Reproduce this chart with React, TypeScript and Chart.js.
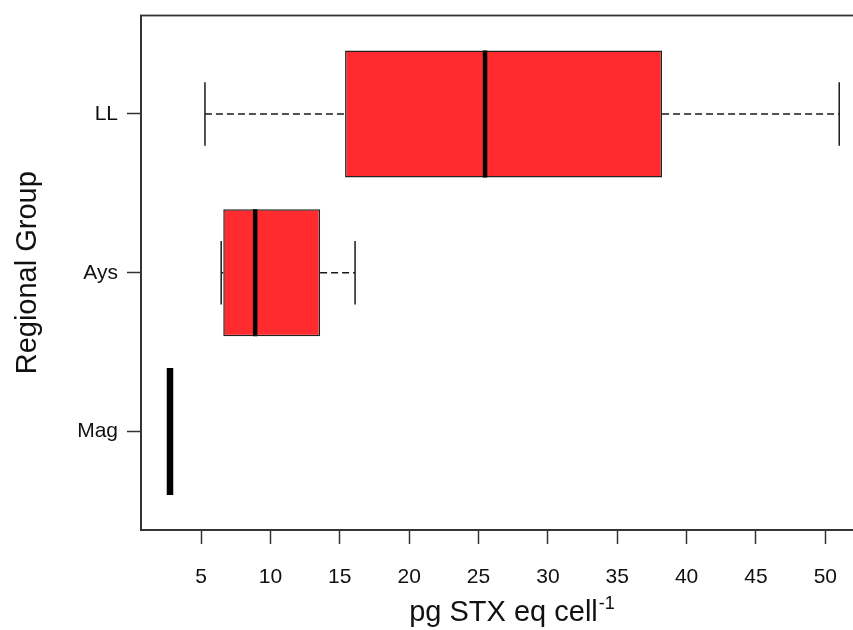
import React, { useEffect, useRef } from 'react';
import { Chart, registerables } from 'chart.js';

Chart.register(...registerables);

// ---- data ----
const groups = ['Mag', 'Ays', 'LL'];
const groupPositions = [1, 2, 3];
const whiskerLow = [2.76, 6.45, 5.28];
const q1 = [2.76, 6.6, 15.38];
const median = [2.76, 8.9, 25.47];
const q3 = [2.76, 13.58, 38.23];
const whiskerHigh = [2.76, 16.1, 51.0];
const xTicks = [5, 10, 15, 20, 25, 30, 35, 40, 45, 50];
const xLimits = [0.67, 52.93];
const yLimits = [0.38, 3.62];

const xTitle = 'pg STX eq cell';
const xTitleSup = '-1';
const yTitle = 'Regional Group';

const FONT = '"Liberation Sans", Arial, Helvetica, sans-serif';
const BOX_HALF = 0.4;
const CAP_HALF = 0.2;

const framePlugin = {
  id: 'frame',
  afterDatasetsDraw(chart: any) {
    const { ctx, chartArea } = chart;
    ctx.save();
    ctx.strokeStyle = '#333';
    ctx.lineWidth = 1.8;
    ctx.strokeRect(chartArea.left, chartArea.top, chartArea.right - chartArea.left, chartArea.bottom - chartArea.top);
    ctx.restore();
  },
};

const supPlugin = {
  id: 'sup',
  afterDraw(chart: any) {
    const { ctx } = chart;
    const xs = chart.scales.x;
    ctx.save();
    ctx.font = `29px ${FONT}`;
    const w = ctx.measureText(xTitle).width;
    const cx = (xs.left + xs.right) / 2;
    const titleY = xs.bottom - 29 * 1.2 / 2;
    ctx.font = `18px ${FONT}`;
    ctx.fillStyle = '#111';
    ctx.textAlign = 'left';
    ctx.textBaseline = 'middle';
    ctx.fillText(xTitleSup, cx + w / 2 + 1, titleY - 9);
    ctx.restore();
  },
};

export default function App() {
  const ref = useRef<HTMLCanvasElement | null>(null);

  useEffect(() => {
    if (!ref.current) return;
    const datasets: any[] = [];

    // boxes
    datasets.push({
      type: 'bar',
      data: groups.map((_, i) => ({ x: [q1[i], q3[i]], y: groupPositions[i] })),
      backgroundColor: '#FF2B2E',
      borderColor: '#222',
      borderWidth: 1.5,
      borderSkipped: false,
      categoryPercentage: 1,
      barPercentage: 0.8,
      order: 3,
    });

    groups.forEach((_, i) => {
      const y = groupPositions[i];
      const line = (pts: any[], extra: any) => ({
        type: 'scatter',
        showLine: true,
        pointRadius: 0,
        data: pts,
        borderColor: '#1a1a1a',
        borderWidth: 1.5,
        ...extra,
      });
      // whiskers
      datasets.push(line([{ x: q3[i], y }, { x: whiskerHigh[i], y }], { borderDash: [7, 4], order: 4 }));
      datasets.push(line([{ x: whiskerLow[i], y }, { x: q1[i], y }], { borderDash: [7, 4], order: 4 }));
      // caps
      datasets.push(line([{ x: whiskerHigh[i], y: y - CAP_HALF }, { x: whiskerHigh[i], y: y + CAP_HALF }], { order: 2 }));
      datasets.push(line([{ x: whiskerLow[i], y: y - CAP_HALF }, { x: whiskerLow[i], y: y + CAP_HALF }], { order: 2 }));
      // median
      datasets.push(line([{ x: median[i], y: y - BOX_HALF }, { x: median[i], y: y + BOX_HALF }], {
        borderColor: '#000',
        borderWidth: q1[i] === q3[i] ? 6.5 : 4.5,
        borderCapStyle: 'butt',
        order: 1,
      }));
    });

    const chart = new Chart(ref.current, {
      type: 'bar',
      data: { datasets },
      plugins: [framePlugin, supPlugin],
      options: {
        indexAxis: 'y',
        animation: false,
        responsive: false,
        devicePixelRatio: 1,
        layout: { padding: { top: 15.5, right: 4, left: 0, bottom: 0 } },
        plugins: { legend: { display: false }, tooltip: { enabled: false } },
        scales: {
          x: {
            type: 'linear',
            position: 'bottom',
            offset: false,
            beginAtZero: false,
            min: xLimits[0],
            max: xLimits[1],
            afterBuildTicks: (s: any) => { s.ticks = xTicks.map((v) => ({ value: v })); },
            afterFit: (s: any) => { s.height = 100; s.paddingLeft = 0; s.paddingRight = 0; },
            grid: { offset: false, drawOnChartArea: false, drawTicks: true, tickLength: 14, tickColor: '#333', tickWidth: 1.5 },
            border: { display: true, color: '#333', width: 1.8 },
            ticks: { color: '#111', font: { family: FONT, size: 21 }, padding: 21, maxRotation: 0, autoSkip: false },
            title: { display: true, text: xTitle, color: '#111', font: { family: FONT, size: 29 }, padding: { top: 0, bottom: 0 } },
          },
          y: {
            type: 'linear',
            position: 'left',
            offset: false,
            beginAtZero: false,
            min: yLimits[0],
            max: yLimits[1],
            afterBuildTicks: (s: any) => { s.ticks = groupPositions.map((v) => ({ value: v })); },
            afterFit: (s: any) => { s.width = 141; s.paddingTop = 0; s.paddingBottom = 0; },
            grid: { offset: false, drawOnChartArea: false, drawTicks: true, tickLength: 14, tickColor: '#333', tickWidth: 1.5 },
            border: { display: true, color: '#333', width: 1.8 },
            ticks: {
              color: '#111',
              font: { family: FONT, size: 21 },
              padding: 9,
              autoSkip: false,
              callback: (v: any) => {
                const k = groupPositions.indexOf(Number(v));
                return k >= 0 ? groups[k] : '';
              },
            },
            title: { display: true, text: yTitle, color: '#111', font: { family: FONT, size: 29 }, padding: { top: 11, bottom: 0 } },
          },
        },
      } as any,
    });
    return () => chart.destroy();
  }, []);

  return (
    <div style={{ position: 'absolute', left: 0, top: 0, width: 853, height: 630, overflow: 'hidden', background: '#fff' }}>
      <canvas ref={ref} width={870} height={630} style={{ display: 'block', width: 870, height: 630 }} />
    </div>
  );
}
